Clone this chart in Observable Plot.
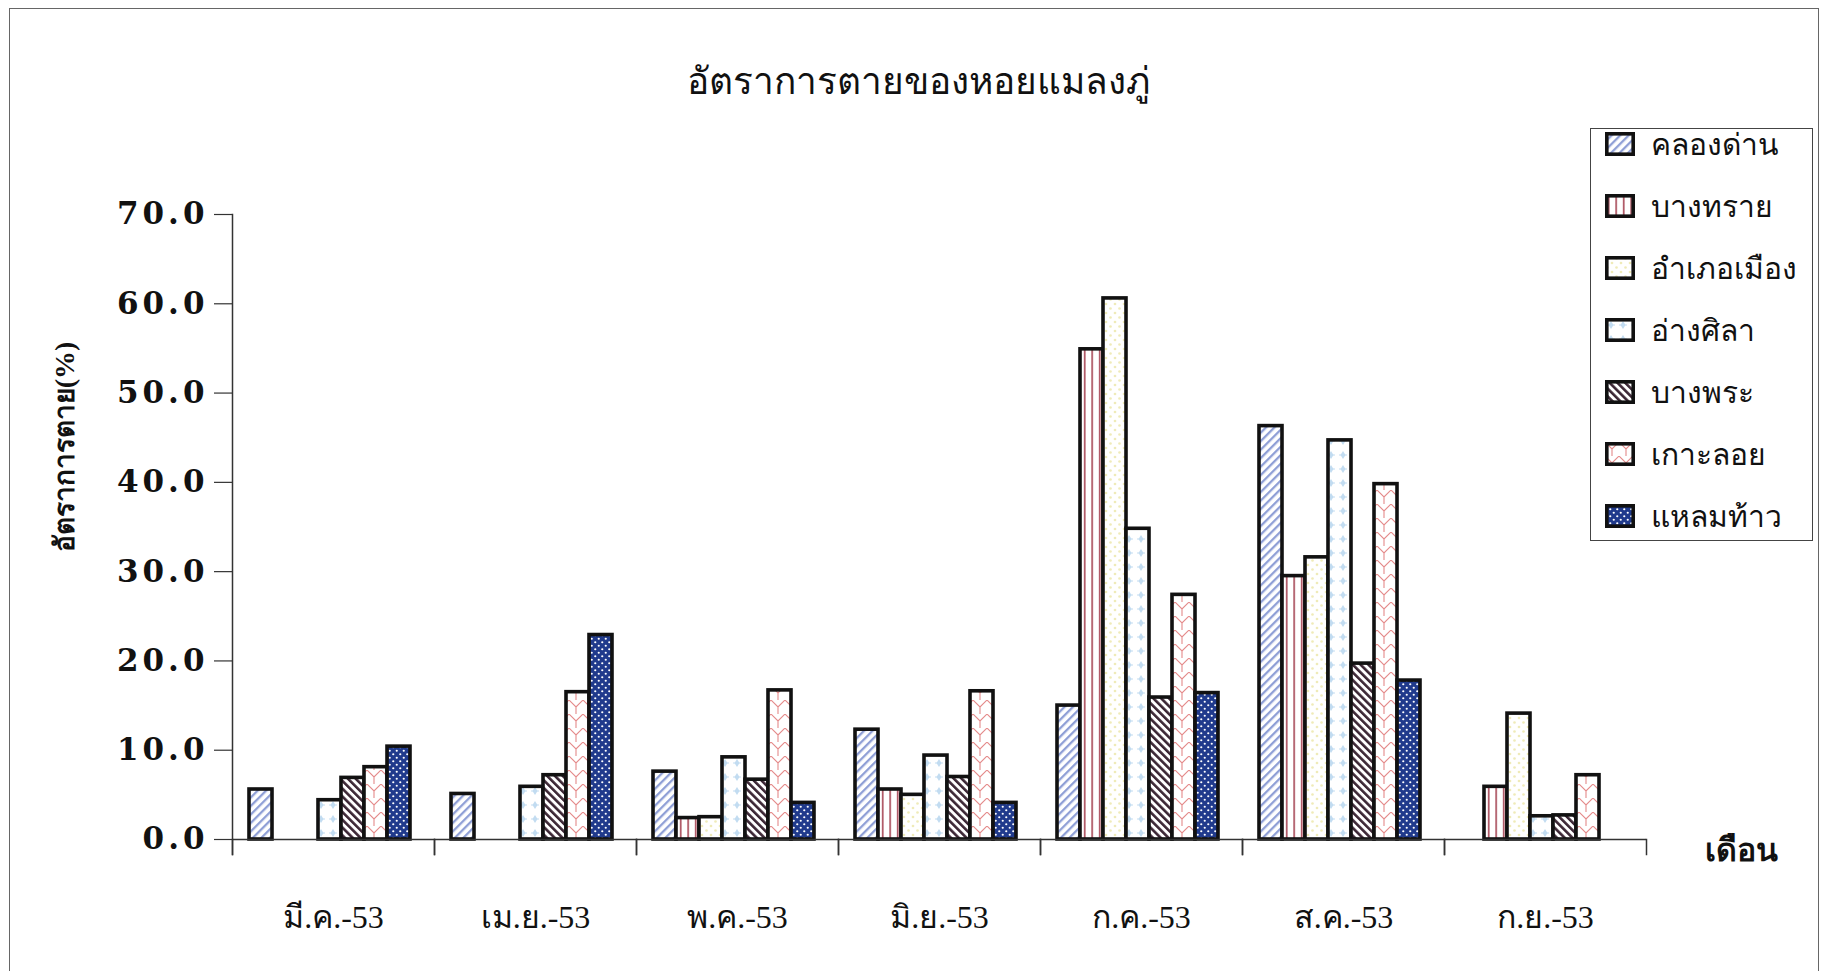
<!DOCTYPE html>
<html>
<head>
<meta charset="utf-8">
<script src="https://cdn.jsdelivr.net/npm/d3@7"></script>
<script src="https://cdn.jsdelivr.net/npm/@observablehq/plot@0.6"></script>
<style>
  html, body { margin: 0; padding: 0; background: #fff; }
  #wrap { position: relative; width: 1822px; height: 971px; overflow: hidden; background: #fff;
          font-family: "Liberation Serif", "DejaVu Serif", serif; color: #111; }
  #border { position: absolute; left: 9px; top: 8px; width: 1810px; height: 1000px;
            border: 1.5px solid #666; box-sizing: border-box; }
  #chart { position: absolute; left: 0; top: 0; }
  #title { position: absolute; left: 0; width: 1836px; top: 51px; text-align: center; font-size: 37px; }
  #ylabel { position: absolute; left: 64px; top: 447px; transform: translate(-50%, -50%) rotate(-90deg);
            font-size: 28px; font-weight: bold; white-space: nowrap; }
  #xlabel { position: absolute; left: 1705px; top: 824px; font-size: 32px; font-weight: bold; }
  #legend { position: absolute; left: 1590px; top: 128px; width: 223px; height: 413px;
            border: 1.5px solid #444; box-sizing: border-box; background: #fff; }
  .item { position: absolute; left: 14px; height: 30px; display: flex; align-items: center; font-size: 30px; white-space: nowrap; }
  .item svg { margin-right: 16px; }
  #chart svg [aria-label="y-axis tick label"] text { letter-spacing: 4px; }
</style>
</head>
<body>
<svg width="0" height="0" style="position:absolute">
  <defs>
    <pattern id="pKlong" patternUnits="userSpaceOnUse" width="6" height="6" patternTransform="rotate(45)">
      <rect width="6" height="6" fill="#fff"/><rect width="2.3" height="6" fill="#8f9fd6"/>
    </pattern>
    <pattern id="pBangsai" patternUnits="userSpaceOnUse" width="7.5" height="8">
      <rect width="7.5" height="8" fill="#fff"/><rect x="3" width="1.4" height="8" fill="#9a2c3e"/>
    </pattern>
    <pattern id="pMuang" patternUnits="userSpaceOnUse" width="9" height="9">
      <rect width="9" height="9" fill="#fff"/><circle cx="2.5" cy="2.5" r="1.3" fill="#efebb8"/><circle cx="7" cy="7" r="1.3" fill="#efebb8"/>
    </pattern>
    <pattern id="pAngsila" patternUnits="userSpaceOnUse" width="12" height="14">
      <rect width="12" height="14" fill="#fff"/>
      <path d="M6 3 L8.5 7 L6 11 L3.5 7 Z" fill="#c2dcf1"/>
      <path d="M2 7 H10" stroke="#c2dcf1" stroke-width="1"/>
    </pattern>
    <pattern id="pBangphra" patternUnits="userSpaceOnUse" width="5.5" height="5.5" patternTransform="rotate(-45)">
      <rect width="5.5" height="5.5" fill="#fff"/><rect width="2.6" height="5.5" fill="#3b2634"/>
    </pattern>
    <pattern id="pKohloy" patternUnits="userSpaceOnUse" width="14" height="14">
      <rect width="14" height="14" fill="#fff"/>
      <path d="M0 0 L7 7 L14 0 M7 7 V14" stroke="#e58a8a" stroke-width="1.1" fill="none"/>
    </pattern>
    <pattern id="pLaem" patternUnits="userSpaceOnUse" width="7" height="7">
      <rect width="7" height="7" fill="#203a8c"/>
      <circle cx="1.75" cy="1.75" r="1.1" fill="#fff"/><circle cx="5.25" cy="5.25" r="1.1" fill="#fff"/>
    </pattern>
  </defs>
</svg>
<div id="wrap">
  <div id="border"></div>
  <div id="chart"></div>
  <div id="title">อัตราการตายของหอยแมลงภู่</div>
  <div id="ylabel">อัตราการตาย(%)</div>
  <div id="xlabel">เดือน</div>
  <div id="legend"></div>
</div>
<script>
// ---- data ----
const months = ["มี.ค.-53", "เม.ย.-53", "พ.ค.-53", "มิ.ย.-53", "ก.ค.-53", "ส.ค.-53", "ก.ย.-53"];
const sites = ["คลองด่าน", "บางทราย", "อำเภอเมือง", "อ่างศิลา", "บางพระ", "เกาะลอย", "แหลมท้าว"];
const klongDan = [5.6, 5.1, 7.6, 12.3, 15.0, 46.3, 0];
const bangSai  = [0, 0, 2.4, 5.6, 54.9, 29.5, 5.9];
const muang    = [0, 0, 2.5, 5.0, 60.6, 31.6, 14.1];
const angSila  = [4.4, 5.9, 9.2, 9.4, 34.8, 44.7, 2.6];
const bangPhra = [6.9, 7.2, 6.7, 7.0, 15.9, 19.7, 2.7];
const kohLoy   = [8.1, 16.5, 16.7, 16.6, 27.4, 39.8, 7.2];
const laemThao = [10.4, 22.9, 4.1, 4.1, 16.4, 17.8, 0];
const yTicks = [0, 10, 20, 30, 40, 50, 60, 70];

const series = [klongDan, bangSai, muang, angSila, bangPhra, kohLoy, laemThao];
const patterns = ["pKlong", "pBangsai", "pMuang", "pAngsila", "pBangphra", "pKohloy", "pLaem"];

const data = [];
months.forEach((m, i) => series.forEach((s, j) => data.push({month: m, site: sites[j], value: s[i]})));

const W = 1822, H = 971, mT = 214, mB = 132, mL = 229, mR = 174;
const innerH = H - mT - mB;
const axisStroke = "#333";

const chart = Plot.plot({
  width: W, height: H,
  marginTop: mT, marginBottom: mB, marginLeft: mL, marginRight: mR,
  style: {background: "transparent", fontFamily: '"Liberation Serif", "DejaVu Serif", serif', color: "#111", overflow: "visible"},
  fx: {domain: months, padding: 0, label: null},
  x: {domain: sites, paddingInner: 0, paddingOuter: 0.72, align: 0.42, axis: null},
  y: {domain: [0, 70], axis: null},
  color: {type: "ordinal", domain: sites, range: patterns.map(p => `url(#${p})`)},
  marks: [
    Plot.barY(data, {filter: d => d.value > 0, fx: "month", x: "site", y: "value", fill: "site",
                     stroke: "#111", strokeWidth: 3.6}),
    Plot.ruleY([0], {stroke: axisStroke, strokeWidth: 1.5}),
    Plot.frame({anchor: "left", insetTop: innerH, insetBottom: -15, stroke: axisStroke, strokeWidth: 1.5}),
    Plot.frame({anchor: "right", insetTop: innerH, insetBottom: -15, stroke: axisStroke, strokeWidth: 1.5}),
    Plot.frame({anchor: "left", fx: () => months[0], insetBottom: -15, stroke: axisStroke, strokeWidth: 1.5}),
    Plot.axisY(yTicks, {anchor: "left", tickSize: 18, tickPadding: 6, tickFormat: d => d.toFixed(1),
                        fontSize: 31, fontWeight: "bold", fontFamily: '"DejaVu Serif", serif',
                        stroke: axisStroke, strokeWidth: 1.2, label: null}),
    Plot.axisFx({anchor: "bottom", tickSize: 0, tickPadding: 66, fontSize: 32, label: null})
  ]
});
document.getElementById("chart").appendChild(chart);

// legend
const legend = document.getElementById("legend");
sites.forEach((s, j) => {
  const item = document.createElement("div");
  item.className = "item";
  item.style.top = (0 + 62 * j) + "px";
  item.innerHTML = `<svg width="30" height="24"><rect x="1.8" y="1.8" width="26.4" height="20.4" fill="url(#${patterns[j]})" stroke="#111" stroke-width="3.6"/></svg><span>${s}</span>`;
  legend.appendChild(item);
});
</script>
</body>
</html>
